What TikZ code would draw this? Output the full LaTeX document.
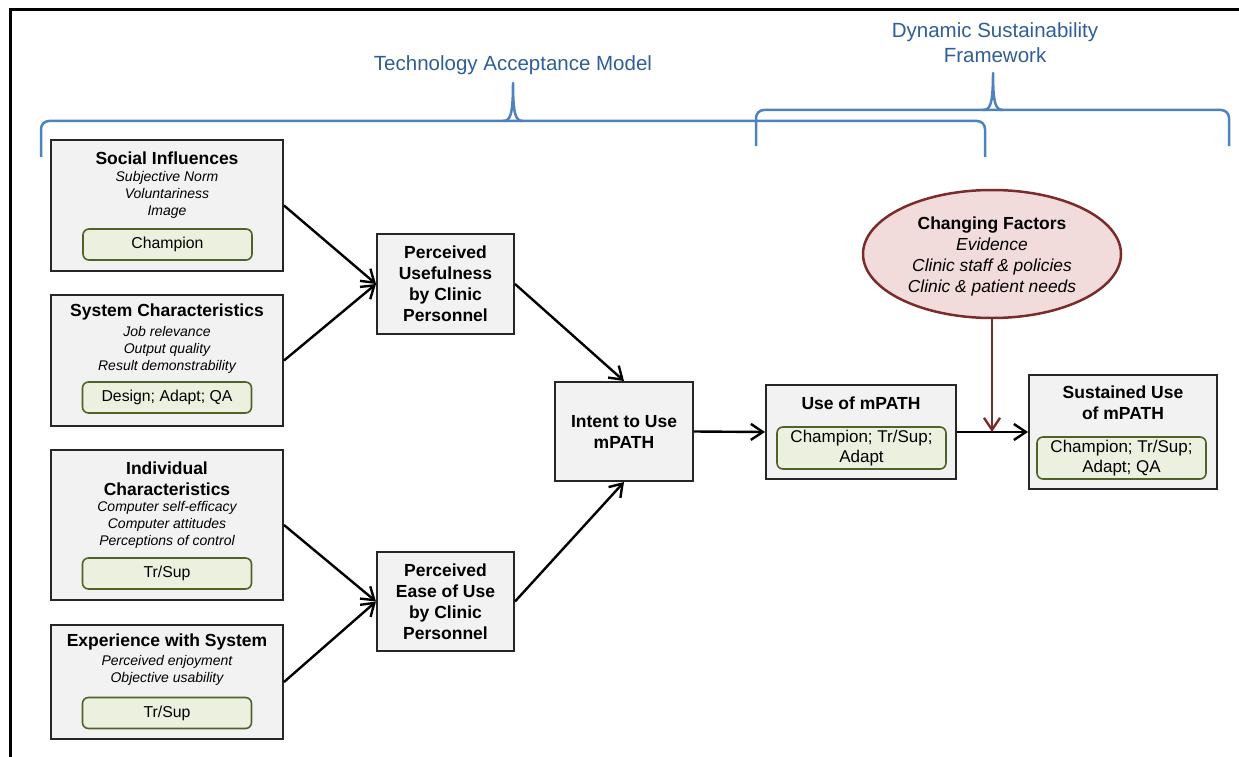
\documentclass[tikz,border=0pt]{standalone}
\usepackage{fontspec}
\setmainfont{Liberation Sans}
\usepackage{xcolor}
\usetikzlibrary{shapes.geometric,arrows.meta}

\definecolor{boxgray}{HTML}{F2F2F2}
\definecolor{boxline}{HTML}{262626}
\definecolor{taggreen}{HTML}{EBF1DE}
\definecolor{tagline}{HTML}{4F6228}
\definecolor{cfpink}{HTML}{F2DCDB}
\definecolor{cfline}{HTML}{7B2B2B}
\definecolor{braceblue}{HTML}{4F81BD}
\definecolor{hdrblue}{HTML}{2F5E96}

\tikzset{
  box/.style={draw=boxline, fill=boxgray, line width=2pt, inner sep=0pt, align=center,
    font=\fontsize{17.5}{21}\selectfont\bfseries},
  tag/.style={draw=tagline, fill=taggreen, line width=1.6pt, rounded corners=6pt,
    minimum width=169pt, inner sep=0pt, align=center},
  ttl/.style={font=\fontsize{17.5}{21}\selectfont\bfseries, align=center, inner sep=0pt},
  itm/.style={font=\fontsize{14}{17}\selectfont\itshape, align=center, inner sep=0pt},
  arr/.style={-{Straight Barb[length=12pt,width=16pt]}, line width=2.4pt},
  brace/.style={draw=braceblue, line width=2.5pt, rounded corners=8pt},
  bracetip/.style={draw=braceblue, line width=2.5pt, line join=round},
  hdr/.style={text=hdrblue, font=\fontsize{20.5}{25}\selectfont, align=center}
}

\begin{document}
\begin{tikzpicture}[x=1pt,y=-1pt]
    \useasboundingbox (0,0) rectangle (1239,757);
    \draw[line width=3pt] (10,757) -- (10,10) -- (1239,10);

    \node[hdr] (tamlbl) at (513,65) {Technology Acceptance Model};
    \node[hdr] (dsflbl) at (995,43) {Dynamic Sustainability\\Framework};
    \draw[brace] (41,157) -- (41,121) -- (985,121) -- (985,157);
    \draw[bracetip] (503,121) .. controls (510,121) and (513,116) .. (513,83) .. controls (513,116) and (516,121) .. (523,121);
    \draw[brace] (756,146) -- (756,110) -- (1229,110) -- (1229,146);
    \draw[bracetip] (983,110) .. controls (990,110) and (993,105) .. (993,73) .. controls (993,105) and (996,110) .. (1003,110);

    \node[box, minimum width=232pt, minimum height=131pt] (soc) at (167,205.5) {};
    \node[ttl] (socT) at (167,158) {Social Influences};
    \node[itm] (socI) at (167,195) {Subjective Norm\\Voluntariness\\Image};
    \node[tag, minimum height=31pt, font=\fontsize{15.8}{19}\selectfont] (socG) at (167.5,244.5) {Champion};

    \node[box, minimum width=232pt, minimum height=131pt] (sys) at (167,360.5) {};
    \node[ttl] (sysT) at (167,312) {System Characteristics};
    \node[itm] (sysI) at (167,350) {Job relevance\\Output quality\\Result demonstrability};
    \node[tag, minimum height=31pt, font=\fontsize{15.8}{19}\selectfont] (sysG) at (167,397.5) {Design; Adapt; QA};

    \node[box, minimum width=232pt, minimum height=150pt] (ind) at (167,525) {};
    \node[ttl] (indT) at (167,478.5) {Individual\\Characteristics};
    \node[itm] (indI) at (167,525) {Computer self-efficacy\\Computer attitudes\\Perceptions of control};
    \node[tag, minimum height=31pt, font=\fontsize{15.8}{19}\selectfont] (indG) at (167,573.5) {Tr/Sup};

    \node[box, minimum width=232pt, minimum height=114pt] (exp) at (167,682) {};
    \node[ttl] (expT) at (167,642) {Experience with System};
    \node[itm] (expI) at (167,670) {Perceived enjoyment\\Objective usability};
    \node[tag, minimum height=31pt, font=\fontsize{15.8}{19}\selectfont] (expG) at (167,713) {Tr/Sup};

    \node[box, minimum width=137pt, minimum height=100pt] (pu) at (445.5,284) {Perceived\\Usefulness\\by Clinic\\Personnel};
    \node[box, minimum width=137pt, minimum height=99pt] (peu) at (445.5,601.5) {Perceived\\Ease of Use\\by Clinic\\Personnel};
    \node[box, minimum width=138pt, minimum height=99pt] (int) at (624,431.5) {Intent to Use\\mPATH};

    \node[box, minimum width=190pt, minimum height=94pt] (use) at (861,432) {};
    \node[ttl] (useT) at (861,403) {Use of mPATH};
    \node[tag, minimum height=42pt, font=\fontsize{17}{19.5}\selectfont] (useG) at (861.5,448) {Champion; Tr/Sup;\\Adapt};

    \node[box, minimum width=188pt, minimum height=114pt] (sus) at (1123,432) {};
    \node[ttl] (susT) at (1123,403) {Sustained Use\\of mPATH};
    \node[tag, minimum height=42pt, font=\fontsize{17}{19.5}\selectfont] (susG) at (1121.5,458) {Champion; Tr/Sup;\\Adapt; QA};

    \node[ellipse, draw=cfline, fill=cfpink, line width=2.5pt, minimum width=258pt, minimum height=128pt, inner sep=0pt] (cf) at (992,254) {};
    \node[ttl] (cfT) at (992,225) {Changing Factors};
    \node[font=\fontsize{17.4}{21}\selectfont\itshape, align=center, inner sep=0pt] (cfI) at (992,267) {Evidence\\Clinic staff \& policies\\Clinic \& patient needs};

    \draw[arr] (soc.east) -- (pu.west);
    \draw[arr] (sys.east) -- (pu.west);
    \draw[arr] (ind.east) -- (peu.west);
    \draw[arr] (exp.east) -- (peu.west);
    \draw[arr] (pu.east) -- (int.north);
    \draw[arr] (peu.east) -- (int.south);
    \draw[arr] (int.east) -- (use.west);
    \draw[arr] (use.east) -- (sus.west);
    \draw[arr, draw=cfline] (cf.south) -- (cf.south |- use.east);
\end{tikzpicture}
\end{document}
